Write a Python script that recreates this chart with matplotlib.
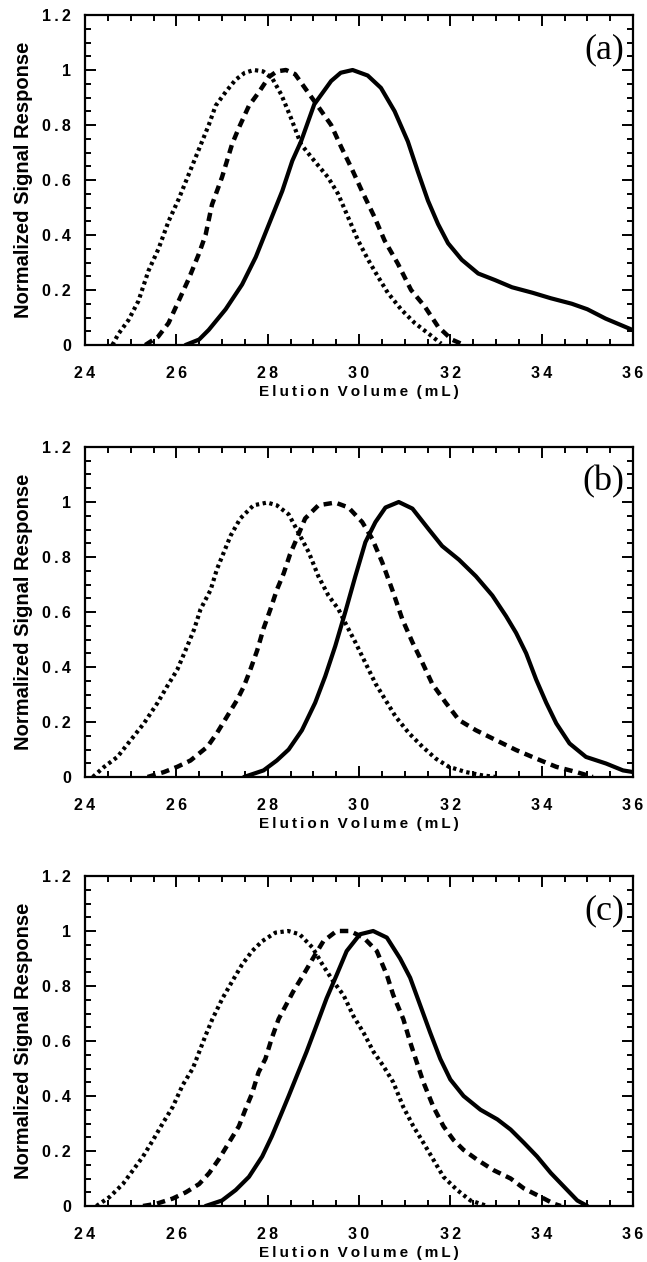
import matplotlib
matplotlib.use("Agg")
import matplotlib.pyplot as plt
from matplotlib.ticker import MultipleLocator, FuncFormatter

plt.rcParams['font.family'] = ['Liberation Sans', 'DejaVu Sans']

# ---------------- data ----------------
panel_labels = ["(a)", "(b)", "(c)"]
x_label = "Elution Volume (mL)"
y_label = "Normalized Signal Response"

# panel (a)
a_dot_x = [24.6, 24.73, 24.95, 25.17, 25.39, 25.61, 25.83, 26.05, 26.27, 26.49, 26.71, 26.86, 27.08, 27.3, 27.5,
           27.7, 27.9, 28.1, 28.3, 28.5, 28.73, 29.02, 29.32, 29.54, 29.76, 29.98, 30.2, 30.41, 30.63, 30.93,
           31.22, 31.51, 31.8]
a_dot_y = [0.0, 0.04, 0.09, 0.16, 0.27, 0.35, 0.45, 0.53, 0.62, 0.71, 0.80, 0.87, 0.92, 0.965, 0.99,
           1.0, 0.995, 0.97, 0.91, 0.83, 0.73, 0.67, 0.61, 0.55, 0.465, 0.38, 0.31, 0.25, 0.19, 0.128,
           0.08, 0.043, 0.005]
a_dash_x = [25.32, 25.6, 25.83, 26.05, 26.27, 26.49, 26.64, 26.78, 27.0, 27.22, 27.37, 27.59, 27.81, 28.03,
            28.2, 28.4, 28.6, 28.75, 29.05, 29.39, 29.61, 29.83, 30.05, 30.34, 30.56, 30.85, 31.14, 31.44,
            31.73, 32.03, 32.3]
a_dash_y = [0.0, 0.03, 0.08, 0.16, 0.24, 0.33, 0.40, 0.51, 0.61, 0.73, 0.79, 0.87, 0.92, 0.975,
            0.995, 1.0, 0.985, 0.95, 0.88, 0.80, 0.72, 0.645, 0.565, 0.465, 0.38, 0.296, 0.20, 0.14,
            0.067, 0.02, 0.0]
a_sol_x = [26.2, 26.5, 26.71, 27.08, 27.44, 27.74, 28.03, 28.32, 28.54, 28.73, 29.02, 29.39, 29.6, 29.86,
           30.19, 30.48, 30.78, 31.07, 31.29, 31.51, 31.73, 31.95, 32.25, 32.61, 32.98, 33.35, 33.8, 34.2,
           34.66, 35.0, 35.4, 35.7, 36.0]
a_sol_y = [0.0, 0.02, 0.055, 0.13, 0.22, 0.32, 0.44, 0.56, 0.67, 0.74, 0.875, 0.96, 0.99, 1.0,
           0.98, 0.935, 0.85, 0.74, 0.63, 0.525, 0.44, 0.37, 0.31, 0.26, 0.236, 0.21, 0.19, 0.17,
           0.15, 0.13, 0.096, 0.075, 0.054]

# panel (b)
b_dot_x = [24.17, 24.42, 24.71, 25.0, 25.29, 25.59, 25.8, 26.02, 26.24, 26.39, 26.53, 26.75, 26.89, 27.04,
           27.19, 27.4, 27.69, 27.99, 28.2, 28.46, 28.67, 28.9, 29.11, 29.33, 29.55, 29.7, 29.92, 30.14,
           30.36, 30.58, 30.8, 31.09, 31.39, 31.68, 31.97, 32.34, 32.7, 33.0]
b_dot_y = [0.0, 0.037, 0.073, 0.134, 0.195, 0.27, 0.33, 0.39, 0.476, 0.537, 0.61, 0.68, 0.756, 0.817,
           0.878, 0.94, 0.988, 0.998, 0.988, 0.955, 0.89, 0.817, 0.73, 0.66, 0.61, 0.56, 0.49, 0.415,
           0.34, 0.28, 0.22, 0.16, 0.11, 0.067, 0.037, 0.018, 0.006, 0.0]
b_dash_x = [25.37, 25.73, 26.02, 26.31, 26.68, 26.89, 27.11, 27.33, 27.48, 27.62, 27.77, 27.91, 28.06, 28.2,
            28.35, 28.49, 28.62, 28.82, 29.11, 29.48, 29.77, 30.07, 30.29, 30.51, 30.73, 30.95, 31.17, 31.39,
            31.6, 31.9, 32.19, 32.56, 33.0, 33.44, 33.88, 34.32, 34.76, 35.12]
b_dash_y = [0.0, 0.018, 0.037, 0.06, 0.11, 0.16, 0.22, 0.28, 0.33, 0.39, 0.46, 0.54, 0.61, 0.68,
            0.74, 0.81, 0.86, 0.94, 0.988, 0.998, 0.98, 0.927, 0.866, 0.78, 0.68, 0.573, 0.49, 0.415,
            0.34, 0.27, 0.207, 0.17, 0.134, 0.098, 0.067, 0.037, 0.018, 0.0]
b_sol_x = [27.48, 27.91, 28.2, 28.46, 28.75, 29.04, 29.26, 29.48, 29.7, 29.92, 30.14, 30.36, 30.58, 30.87,
           31.17, 31.53, 31.82, 32.19, 32.56, 32.92, 33.22, 33.44, 33.66, 33.88, 34.1, 34.32, 34.61, 34.97,
           35.41, 35.78, 36.0]
b_sol_y = [0.0, 0.024, 0.06, 0.10, 0.17, 0.27, 0.366, 0.476, 0.6, 0.73, 0.854, 0.927, 0.98, 1.0,
           0.976, 0.9, 0.84, 0.79, 0.73, 0.66, 0.585, 0.524, 0.45, 0.354, 0.27, 0.195, 0.122, 0.073,
           0.049, 0.024, 0.018]

# panel (c)
c_dot_x = [24.25, 24.54, 24.83, 25.05, 25.27, 25.49, 25.7, 25.92, 26.14, 26.36, 26.5, 26.64, 26.79, 27.01,
           27.22, 27.44, 27.66, 27.88, 28.17, 28.45, 28.7, 28.98, 29.2, 29.44, 29.66, 29.88, 30.1, 30.32,
           30.53, 30.75, 30.97, 31.19, 31.41, 31.63, 31.85, 32.15, 32.44, 32.81]
c_dot_y = [0.0, 0.033, 0.08, 0.13, 0.18, 0.24, 0.30, 0.36, 0.44, 0.50, 0.56, 0.62, 0.68, 0.755,
           0.816, 0.878, 0.927, 0.963, 0.994, 1.0, 0.988, 0.94, 0.878, 0.816, 0.767, 0.69, 0.63, 0.56,
           0.51, 0.45, 0.36, 0.29, 0.23, 0.168, 0.106, 0.058, 0.02, 0.0]
c_dash_x = [25.27, 25.56, 25.92, 26.21, 26.5, 26.72, 26.93, 27.15, 27.37, 27.51, 27.66, 27.8, 27.95, 28.09,
            28.24, 28.4, 28.56, 28.78, 28.99, 29.22, 29.51, 29.8, 30.1, 30.39, 30.61, 30.75, 30.97, 31.12,
            31.27, 31.41, 31.63, 31.85, 32.07, 32.29, 32.59, 32.95, 33.32, 33.61, 33.98, 34.27, 34.42]
c_dash_y = [0.0, 0.008, 0.027, 0.05, 0.08, 0.12, 0.17, 0.23, 0.29, 0.35, 0.41, 0.486, 0.535, 0.61,
            0.68, 0.73, 0.78, 0.84, 0.9, 0.963, 1.0, 1.0, 0.976, 0.927, 0.84, 0.767, 0.68, 0.596,
            0.52, 0.45, 0.36, 0.29, 0.24, 0.204, 0.168, 0.13, 0.1, 0.064, 0.033, 0.008, 0.0]
c_sol_x = [26.64, 27.0, 27.3, 27.59, 27.88, 28.09, 28.31, 28.46, 28.63, 28.85, 29.07, 29.29, 29.51, 29.73,
           30.02, 30.31, 30.61, 30.9, 31.12, 31.34, 31.56, 31.78, 32.0, 32.29, 32.66, 33.03, 33.32, 33.61,
           33.9, 34.2, 34.49, 34.78, 35.0]
c_sol_y = [0.0, 0.02, 0.058, 0.106, 0.18, 0.253, 0.34, 0.40, 0.47, 0.56, 0.657, 0.755, 0.84, 0.927,
           0.988, 1.0, 0.976, 0.9, 0.83, 0.73, 0.63, 0.535, 0.46, 0.40, 0.35, 0.315, 0.278, 0.23,
           0.18, 0.12, 0.07, 0.02, 0.0]

x_ticks = [24, 26, 28, 30, 32, 34, 36]
y_ticks = [0, 0.2, 0.4, 0.6, 0.8, 1.0, 1.2]

panels = [
    (a_dot_x, a_dot_y, a_dash_x, a_dash_y, a_sol_x, a_sol_y),
    (b_dot_x, b_dot_y, b_dash_x, b_dash_y, b_sol_x, b_sol_y),
    (c_dot_x, c_dot_y, c_dash_x, c_dash_y, c_sol_x, c_sol_y),
]

# ---------------- drawing ----------------
TS = "\u2009"  # thin space used to imitate the wide letter spacing


def spaced(s):
    return TS.join(list(s))


def fmt_y(v, pos):
    s = "%g" % round(v, 2)
    return spaced(s)


def fmt_x(v, pos):
    return spaced("%d" % round(v))


W, H = 647, 1262
fig = plt.figure(figsize=(W / 100, H / 100), dpi=100)

ax_left = 85 / W
ax_w = 548 / W
ax_h = 330 / H
bottoms_px = [345, 777, 1206]

for i, (dx, dy, hx, hy, sx, sy) in enumerate(panels):
    ax = fig.add_axes([ax_left, 1 - bottoms_px[i] / H, ax_w, ax_h])
    ax.plot(dx, dy, color='black', lw=3.0, linestyle=(0, (0.8, 0.85)), dash_capstyle='butt')
    ax.plot(hx, hy, color='black', lw=3.2, linestyle=(0, (1.9, 1.3)), dash_capstyle='butt')
    ax.plot(sx, sy, color='black', lw=3.0, solid_capstyle='round', solid_joinstyle='round')

    ax.set_xlim(24, 36)
    ax.set_ylim(0, 1.2)
    ax.set_xticks(x_ticks)
    ax.set_yticks(y_ticks)
    ax.xaxis.set_minor_locator(MultipleLocator(0.5))
    ax.yaxis.set_minor_locator(MultipleLocator(0.05))
    ax.xaxis.set_major_formatter(FuncFormatter(fmt_x))
    ax.yaxis.set_major_formatter(FuncFormatter(fmt_y))
    ax.tick_params(which='both', direction='in', top=True, right=True, width=1.4, color='black')
    ax.tick_params(which='major', length=8)
    ax.tick_params(which='minor', length=4.5)
    ax.tick_params(axis='x', which='major', pad=15)
    ax.tick_params(axis='y', which='major', pad=10)
    for lab in ax.get_xticklabels() + ax.get_yticklabels():
        lab.set_fontsize(11.5)
        lab.set_fontweight('bold')
    for sp in ax.spines.values():
        sp.set_linewidth(1.6)

    ax.set_xlabel(spaced(x_label).replace(TS + " " + TS, "  "), fontsize=11, fontweight='bold', labelpad=3)
    ax.set_ylabel(y_label, fontsize=14.5, fontweight='bold', labelpad=7)

    ax.text(0.984, 0.895, panel_labels[i], transform=ax.transAxes, ha='right', va='center',
            fontsize=26, family=['Liberation Serif', 'DejaVu Serif'])

fig.savefig("out.png", dpi=100)
